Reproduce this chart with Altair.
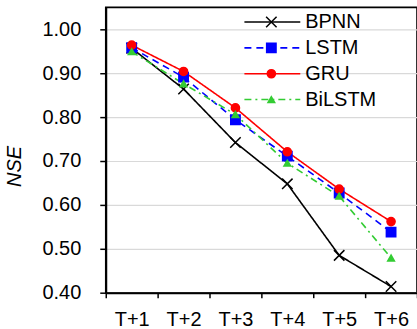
import altair as alt
import pandas as pd

# Forecast horizons and model NSE scores
horizons = ["T+1", "T+2", "T+3", "T+4", "T+5", "T+6"]
series = ["BPNN", "LSTM", "GRU", "BiLSTM"]
bpnn = [0.957, 0.864, 0.742, 0.648, 0.485, 0.414]
lstm = [0.958, 0.891, 0.794, 0.711, 0.627, 0.538]
gru = [0.964, 0.904, 0.821, 0.721, 0.636, 0.562]
bilstm = [0.949, 0.876, 0.806, 0.695, 0.620, 0.479]

colors = ["#000000", "#0000FF", "#FF0000", "#33CC33"]
dashes = [[1, 0], [7, 5], [1, 0], [7, 4, 2, 4]]
shapes = ["M-1,-1L1,1M-1,1L1,-1", "square", "circle", "triangle-up"]
sizes = [110, 45, 52, 62]

rows = []
for name, vals in zip(series, [bpnn, lstm, gru, bilstm]):
    for h, v in zip(horizons, vals):
        rows.append({"horizon": h, "series": name, "nse": v})
df = pd.DataFrame(rows)
legend_df = pd.DataFrame({"series": series, "idx": list(range(len(series)))})

FONT = "Liberation Sans"

color_scale = alt.Scale(domain=series, range=colors)
dash_scale = alt.Scale(domain=series, range=dashes)
shape_scale = alt.Scale(domain=series, range=shapes)
size_scale = alt.Scale(domain=series, range=sizes)

x_enc = alt.X(
    "horizon:O",
    sort=horizons,
    bandPosition=0.5,
    scale=alt.Scale(type="band", paddingInner=0, paddingOuter=0),
    axis=alt.Axis(
        title=None, labelAngle=0, tickBand="extent", tickSize=5,
        labelPadding=12, grid=False,
    ),
)
y_enc = alt.Y(
    "nse:Q",
    scale=alt.Scale(domain=[0.4, 1.05], nice=False, zero=False),
    axis=alt.Axis(
        values=[0.4, 0.5, 0.6, 0.7, 0.8, 0.9, 1.0], format=".2f",
        tickSize=6, labelPadding=19, title="NSE",
        titleFontStyle="italic", titleFontWeight="normal", titleFontSize=20,
        titleAngle=270, titleAlign="center", titleBaseline="middle",
        titleX=-91, titleY=159,
    ),
)

lines = alt.Chart(df).mark_line(strokeWidth=1.6).encode(
    x=x_enc, y=y_enc,
    color=alt.Color("series:N", scale=color_scale, legend=None),
    strokeDash=alt.StrokeDash("series:N", scale=dash_scale, legend=None),
    detail="series:N",
)

points = alt.Chart(df).mark_point(filled=True, opacity=1, strokeWidth=1.5).encode(
    x=x_enc, y=y_enc,
    fill=alt.Fill("series:N", scale=color_scale, legend=None),
    stroke=alt.Stroke("series:N", scale=color_scale, legend=None),
    shape=alt.Shape("series:N", scale=shape_scale, legend=None),
    size=alt.Size("series:N", scale=size_scale, legend=None),
)

# Hand-built legend in the upper right of the plot
leg_base = alt.Chart(legend_df).transform_calculate(ly="14.7 + 25.9 * datum.idx")
leg_y = alt.Y("ly:Q", scale=None, axis=None)

leg_lines = leg_base.mark_rule(strokeWidth=1.6).encode(
    x=alt.value(139), x2=alt.value(195), y=leg_y,
    color=alt.Color("series:N", scale=color_scale, legend=None),
    strokeDash=alt.StrokeDash("series:N", scale=dash_scale, legend=None),
)
leg_points = leg_base.mark_point(filled=True, opacity=1, strokeWidth=1.5).encode(
    x=alt.value(166), y=leg_y,
    fill=alt.Fill("series:N", scale=color_scale, legend=None),
    stroke=alt.Stroke("series:N", scale=color_scale, legend=None),
    shape=alt.Shape("series:N", scale=shape_scale, legend=None),
    size=alt.Size("series:N", scale=size_scale, legend=None),
)
leg_text = leg_base.mark_text(
    align="left", baseline="middle", fontSize=20, font=FONT, color="#000000"
).encode(x=alt.value(200), y=leg_y, text="series:N")

chart = (
    alt.layer(lines, points, leg_lines, leg_points, leg_text)
    .properties(
        width=312, height=286,
        autosize=alt.AutoSizeParams(type="none"),
        padding={"left": 106, "top": 7, "right": 0, "bottom": 36},
        background="white",
    )
    .configure_view(stroke="#000000", strokeWidth=1.6)
    .configure_axis(
        labelFont=FONT, labelFontSize=20, labelColor="#000000",
        titleFont=FONT, titleColor="#000000",
        domainColor="#000000", domainWidth=2, tickColor="#000000", tickWidth=1.5,
        gridColor="#D9D9D9", gridWidth=1.2,
    )
)

chart.save("out.html", embed_options={"renderer": "svg", "actions": False})
